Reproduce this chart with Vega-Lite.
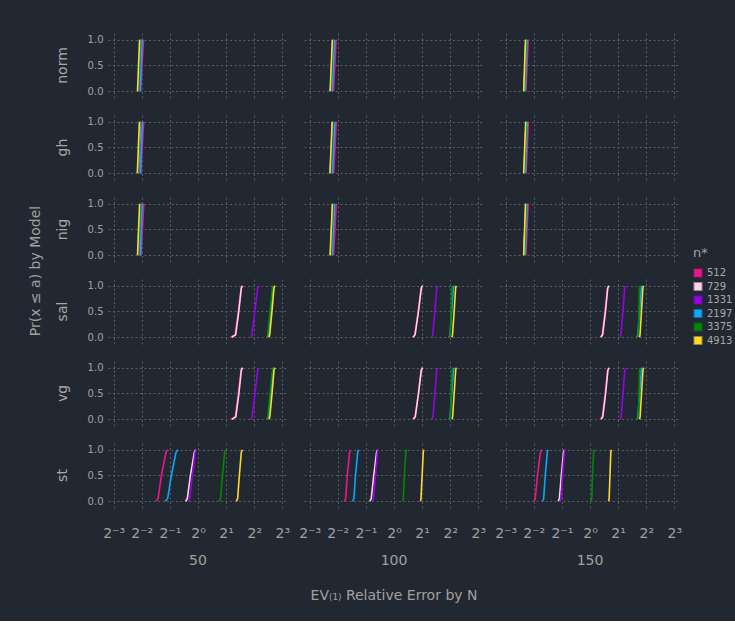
{
"$schema": "https://vega.github.io/schema/vega-lite/v6.json",
"background": "#222831",
"padding": {"left": 28, "top": 33, "right": 5, "bottom": 18},
"data": {"values": [
{"model":"norm","N":50,"n":512,"x":0.243,"p":0},{"model":"norm","N":50,"n":512,"x":0.261,"p":1},
{"model":"norm","N":50,"n":729,"x":0.233,"p":0},{"model":"norm","N":50,"n":729,"x":0.245,"p":1},
{"model":"norm","N":50,"n":1331,"x":0.237,"p":0},{"model":"norm","N":50,"n":1331,"x":0.250,"p":1},
{"model":"norm","N":50,"n":2197,"x":0.240,"p":0},{"model":"norm","N":50,"n":2197,"x":0.253,"p":1},
{"model":"norm","N":50,"n":3375,"x":0.230,"p":0},{"model":"norm","N":50,"n":3375,"x":0.241,"p":1},
{"model":"norm","N":50,"n":4913,"x":0.225,"p":0},{"model":"norm","N":50,"n":4913,"x":0.237,"p":1},
{"model":"gh","N":50,"n":512,"x":0.244,"p":0},{"model":"gh","N":50,"n":512,"x":0.262,"p":1},
{"model":"gh","N":50,"n":729,"x":0.232,"p":0},{"model":"gh","N":50,"n":729,"x":0.244,"p":1},
{"model":"gh","N":50,"n":1331,"x":0.238,"p":0},{"model":"gh","N":50,"n":1331,"x":0.251,"p":1},
{"model":"gh","N":50,"n":2197,"x":0.241,"p":0},{"model":"gh","N":50,"n":2197,"x":0.254,"p":1},
{"model":"gh","N":50,"n":3375,"x":0.229,"p":0},{"model":"gh","N":50,"n":3375,"x":0.240,"p":1},
{"model":"gh","N":50,"n":4913,"x":0.224,"p":0},{"model":"gh","N":50,"n":4913,"x":0.236,"p":1},
{"model":"nig","N":50,"n":512,"x":0.245,"p":0},{"model":"nig","N":50,"n":512,"x":0.263,"p":1},
{"model":"nig","N":50,"n":729,"x":0.233,"p":0},{"model":"nig","N":50,"n":729,"x":0.246,"p":1},
{"model":"nig","N":50,"n":1331,"x":0.238,"p":0},{"model":"nig","N":50,"n":1331,"x":0.250,"p":1},
{"model":"nig","N":50,"n":2197,"x":0.241,"p":0},{"model":"nig","N":50,"n":2197,"x":0.253,"p":1},
{"model":"nig","N":50,"n":3375,"x":0.230,"p":0},{"model":"nig","N":50,"n":3375,"x":0.242,"p":1},
{"model":"nig","N":50,"n":4913,"x":0.225,"p":0},{"model":"nig","N":50,"n":4913,"x":0.237,"p":1},
{"model":"norm","N":100,"n":512,"x":0.225,"p":0},{"model":"norm","N":100,"n":512,"x":0.240,"p":1},
{"model":"norm","N":100,"n":729,"x":0.209,"p":0},{"model":"norm","N":100,"n":729,"x":0.221,"p":1},
{"model":"norm","N":100,"n":1331,"x":0.212,"p":0},{"model":"norm","N":100,"n":1331,"x":0.224,"p":1},
{"model":"norm","N":100,"n":2197,"x":0.218,"p":0},{"model":"norm","N":100,"n":2197,"x":0.232,"p":1},
{"model":"norm","N":100,"n":3375,"x":0.210,"p":0},{"model":"norm","N":100,"n":3375,"x":0.222,"p":1},
{"model":"norm","N":100,"n":4913,"x":0.207,"p":0},{"model":"norm","N":100,"n":4913,"x":0.219,"p":1},
{"model":"gh","N":100,"n":512,"x":0.226,"p":0},{"model":"gh","N":100,"n":512,"x":0.241,"p":1},
{"model":"gh","N":100,"n":729,"x":0.208,"p":0},{"model":"gh","N":100,"n":729,"x":0.220,"p":1},
{"model":"gh","N":100,"n":1331,"x":0.212,"p":0},{"model":"gh","N":100,"n":1331,"x":0.225,"p":1},
{"model":"gh","N":100,"n":2197,"x":0.219,"p":0},{"model":"gh","N":100,"n":2197,"x":0.233,"p":1},
{"model":"gh","N":100,"n":3375,"x":0.210,"p":0},{"model":"gh","N":100,"n":3375,"x":0.221,"p":1},
{"model":"gh","N":100,"n":4913,"x":0.206,"p":0},{"model":"gh","N":100,"n":4913,"x":0.218,"p":1},
{"model":"nig","N":100,"n":512,"x":0.225,"p":0},{"model":"nig","N":100,"n":512,"x":0.241,"p":1},
{"model":"nig","N":100,"n":729,"x":0.209,"p":0},{"model":"nig","N":100,"n":729,"x":0.221,"p":1},
{"model":"nig","N":100,"n":1331,"x":0.213,"p":0},{"model":"nig","N":100,"n":1331,"x":0.225,"p":1},
{"model":"nig","N":100,"n":2197,"x":0.218,"p":0},{"model":"nig","N":100,"n":2197,"x":0.232,"p":1},
{"model":"nig","N":100,"n":3375,"x":0.211,"p":0},{"model":"nig","N":100,"n":3375,"x":0.222,"p":1},
{"model":"nig","N":100,"n":4913,"x":0.207,"p":0},{"model":"nig","N":100,"n":4913,"x":0.219,"p":1},
{"model":"norm","N":150,"n":512,"x":0.206,"p":0},{"model":"norm","N":150,"n":512,"x":0.218,"p":1},
{"model":"norm","N":150,"n":729,"x":0.197,"p":0},{"model":"norm","N":150,"n":729,"x":0.206,"p":1},
{"model":"norm","N":150,"n":1331,"x":0.199,"p":0},{"model":"norm","N":150,"n":1331,"x":0.209,"p":1},
{"model":"norm","N":150,"n":2197,"x":0.202,"p":0},{"model":"norm","N":150,"n":2197,"x":0.212,"p":1},
{"model":"norm","N":150,"n":3375,"x":0.198,"p":0},{"model":"norm","N":150,"n":3375,"x":0.207,"p":1},
{"model":"norm","N":150,"n":4913,"x":0.195,"p":0},{"model":"norm","N":150,"n":4913,"x":0.204,"p":1},
{"model":"gh","N":150,"n":512,"x":0.207,"p":0},{"model":"gh","N":150,"n":512,"x":0.219,"p":1},
{"model":"gh","N":150,"n":729,"x":0.197,"p":0},{"model":"gh","N":150,"n":729,"x":0.207,"p":1},
{"model":"gh","N":150,"n":1331,"x":0.200,"p":0},{"model":"gh","N":150,"n":1331,"x":0.209,"p":1},
{"model":"gh","N":150,"n":2197,"x":0.203,"p":0},{"model":"gh","N":150,"n":2197,"x":0.213,"p":1},
{"model":"gh","N":150,"n":3375,"x":0.198,"p":0},{"model":"gh","N":150,"n":3375,"x":0.208,"p":1},
{"model":"gh","N":150,"n":4913,"x":0.195,"p":0},{"model":"gh","N":150,"n":4913,"x":0.205,"p":1},
{"model":"nig","N":150,"n":512,"x":0.206,"p":0},{"model":"nig","N":150,"n":512,"x":0.218,"p":1},
{"model":"nig","N":150,"n":729,"x":0.196,"p":0},{"model":"nig","N":150,"n":729,"x":0.206,"p":1},
{"model":"nig","N":150,"n":1331,"x":0.199,"p":0},{"model":"nig","N":150,"n":1331,"x":0.209,"p":1},
{"model":"nig","N":150,"n":2197,"x":0.202,"p":0},{"model":"nig","N":150,"n":2197,"x":0.212,"p":1},
{"model":"nig","N":150,"n":3375,"x":0.198,"p":0},{"model":"nig","N":150,"n":3375,"x":0.207,"p":1},
{"model":"nig","N":150,"n":4913,"x":0.195,"p":0},{"model":"nig","N":150,"n":4913,"x":0.204,"p":1},
{"model":"sal","N":50,"n":512,"x":2.235,"p":0},{"model":"sal","N":50,"n":512,"x":2.497,"p":0.05},{"model":"sal","N":50,"n":512,"x":2.694,"p":0.5},{"model":"sal","N":50,"n":512,"x":2.888,"p":0.95},{"model":"sal","N":50,"n":512,"x":2.969,"p":1},
{"model":"sal","N":50,"n":729,"x":2.297,"p":0},{"model":"sal","N":50,"n":729,"x":2.532,"p":0.05},{"model":"sal","N":50,"n":729,"x":2.732,"p":0.5},{"model":"sal","N":50,"n":729,"x":2.908,"p":0.95},{"model":"sal","N":50,"n":729,"x":2.990,"p":1},
{"model":"sal","N":50,"n":1331,"x":3.655,"p":0},{"model":"sal","N":50,"n":1331,"x":3.784,"p":0.05},{"model":"sal","N":50,"n":1331,"x":4.056,"p":0.5},{"model":"sal","N":50,"n":1331,"x":4.347,"p":0.95},{"model":"sal","N":50,"n":1331,"x":4.500,"p":1},
{"model":"sal","N":50,"n":2197,"x":5.541,"p":0},{"model":"sal","N":50,"n":2197,"x":5.657,"p":0.05},{"model":"sal","N":50,"n":2197,"x":5.979,"p":0.5},{"model":"sal","N":50,"n":2197,"x":6.320,"p":0.95},{"model":"sal","N":50,"n":2197,"x":6.453,"p":1},
{"model":"sal","N":50,"n":3375,"x":5.426,"p":0},{"model":"sal","N":50,"n":3375,"x":5.579,"p":0.05},{"model":"sal","N":50,"n":3375,"x":5.897,"p":0.5},{"model":"sal","N":50,"n":3375,"x":6.277,"p":0.95},{"model":"sal","N":50,"n":3375,"x":6.409,"p":1},
{"model":"sal","N":50,"n":4913,"x":5.736,"p":0},{"model":"sal","N":50,"n":4913,"x":5.856,"p":0.05},{"model":"sal","N":50,"n":4913,"x":6.190,"p":0.5},{"model":"sal","N":50,"n":4913,"x":6.498,"p":0.95},{"model":"sal","N":50,"n":4913,"x":6.634,"p":1},
{"model":"vg","N":50,"n":512,"x":2.25,"p":0},{"model":"vg","N":50,"n":512,"x":2.51,"p":0.05},{"model":"vg","N":50,"n":512,"x":2.70,"p":0.5},{"model":"vg","N":50,"n":512,"x":2.89,"p":0.95},{"model":"vg","N":50,"n":512,"x":2.97,"p":1},
{"model":"vg","N":50,"n":729,"x":2.31,"p":0},{"model":"vg","N":50,"n":729,"x":2.54,"p":0.05},{"model":"vg","N":50,"n":729,"x":2.74,"p":0.5},{"model":"vg","N":50,"n":729,"x":2.91,"p":0.95},{"model":"vg","N":50,"n":729,"x":3.00,"p":1},
{"model":"vg","N":50,"n":1331,"x":3.67,"p":0},{"model":"vg","N":50,"n":1331,"x":3.80,"p":0.05},{"model":"vg","N":50,"n":1331,"x":4.07,"p":0.5},{"model":"vg","N":50,"n":1331,"x":4.36,"p":0.95},{"model":"vg","N":50,"n":1331,"x":4.51,"p":1},
{"model":"vg","N":50,"n":2197,"x":5.55,"p":0},{"model":"vg","N":50,"n":2197,"x":5.67,"p":0.05},{"model":"vg","N":50,"n":2197,"x":5.99,"p":0.5},{"model":"vg","N":50,"n":2197,"x":6.33,"p":0.95},{"model":"vg","N":50,"n":2197,"x":6.46,"p":1},
{"model":"vg","N":50,"n":3375,"x":5.44,"p":0},{"model":"vg","N":50,"n":3375,"x":5.59,"p":0.05},{"model":"vg","N":50,"n":3375,"x":5.91,"p":0.5},{"model":"vg","N":50,"n":3375,"x":6.28,"p":0.95},{"model":"vg","N":50,"n":3375,"x":6.41,"p":1},
{"model":"vg","N":50,"n":4913,"x":5.75,"p":0},{"model":"vg","N":50,"n":4913,"x":5.87,"p":0.05},{"model":"vg","N":50,"n":4913,"x":6.20,"p":0.5},{"model":"vg","N":50,"n":4913,"x":6.51,"p":0.95},{"model":"vg","N":50,"n":4913,"x":6.64,"p":1},
{"model":"sal","N":100,"n":512,"x":1.580,"p":0},{"model":"sal","N":100,"n":512,"x":1.670,"p":0.05},{"model":"sal","N":100,"n":512,"x":1.815,"p":0.5},{"model":"sal","N":100,"n":512,"x":1.945,"p":0.95},{"model":"sal","N":100,"n":512,"x":2.000,"p":1},
{"model":"sal","N":100,"n":729,"x":1.602,"p":0},{"model":"sal","N":100,"n":729,"x":1.682,"p":0.05},{"model":"sal","N":100,"n":729,"x":1.828,"p":0.5},{"model":"sal","N":100,"n":729,"x":1.959,"p":0.95},{"model":"sal","N":100,"n":729,"x":2.014,"p":1},
{"model":"sal","N":100,"n":1331,"x":2.532,"p":0},{"model":"sal","N":100,"n":1331,"x":2.603,"p":0.05},{"model":"sal","N":100,"n":1331,"x":2.732,"p":0.5},{"model":"sal","N":100,"n":1331,"x":2.868,"p":0.95},{"model":"sal","N":100,"n":1331,"x":2.928,"p":1},
{"model":"sal","N":100,"n":2197,"x":3.891,"p":0},{"model":"sal","N":100,"n":2197,"x":3.972,"p":0.05},{"model":"sal","N":100,"n":2197,"x":4.141,"p":0.5},{"model":"sal","N":100,"n":2197,"x":4.317,"p":0.95},{"model":"sal","N":100,"n":2197,"x":4.377,"p":1},
{"model":"sal","N":100,"n":3375,"x":3.945,"p":0},{"model":"sal","N":100,"n":3375,"x":4.000,"p":0.05},{"model":"sal","N":100,"n":3375,"x":4.084,"p":0.5},{"model":"sal","N":100,"n":3375,"x":4.170,"p":0.95},{"model":"sal","N":100,"n":3375,"x":4.228,"p":1},
{"model":"sal","N":100,"n":4913,"x":4.170,"p":0},{"model":"sal","N":100,"n":4913,"x":4.228,"p":0.05},{"model":"sal","N":100,"n":4913,"x":4.408,"p":0.5},{"model":"sal","N":100,"n":4913,"x":4.563,"p":0.95},{"model":"sal","N":100,"n":4913,"x":4.627,"p":1},
{"model":"vg","N":100,"n":512,"x":1.59,"p":0},{"model":"vg","N":100,"n":512,"x":1.68,"p":0.05},{"model":"vg","N":100,"n":512,"x":1.82,"p":0.5},{"model":"vg","N":100,"n":512,"x":1.95,"p":0.95},{"model":"vg","N":100,"n":512,"x":2.01,"p":1},
{"model":"vg","N":100,"n":729,"x":1.61,"p":0},{"model":"vg","N":100,"n":729,"x":1.69,"p":0.05},{"model":"vg","N":100,"n":729,"x":1.83,"p":0.5},{"model":"vg","N":100,"n":729,"x":1.96,"p":0.95},{"model":"vg","N":100,"n":729,"x":2.02,"p":1},
{"model":"vg","N":100,"n":1331,"x":2.54,"p":0},{"model":"vg","N":100,"n":1331,"x":2.61,"p":0.05},{"model":"vg","N":100,"n":1331,"x":2.74,"p":0.5},{"model":"vg","N":100,"n":1331,"x":2.87,"p":0.95},{"model":"vg","N":100,"n":1331,"x":2.93,"p":1},
{"model":"vg","N":100,"n":2197,"x":3.90,"p":0},{"model":"vg","N":100,"n":2197,"x":3.98,"p":0.05},{"model":"vg","N":100,"n":2197,"x":4.15,"p":0.5},{"model":"vg","N":100,"n":2197,"x":4.32,"p":0.95},{"model":"vg","N":100,"n":2197,"x":4.38,"p":1},
{"model":"vg","N":100,"n":3375,"x":3.95,"p":0},{"model":"vg","N":100,"n":3375,"x":4.01,"p":0.05},{"model":"vg","N":100,"n":3375,"x":4.09,"p":0.5},{"model":"vg","N":100,"n":3375,"x":4.18,"p":0.95},{"model":"vg","N":100,"n":3375,"x":4.23,"p":1},
{"model":"vg","N":100,"n":4913,"x":4.18,"p":0},{"model":"vg","N":100,"n":4913,"x":4.24,"p":0.05},{"model":"vg","N":100,"n":4913,"x":4.41,"p":0.5},{"model":"vg","N":100,"n":4913,"x":4.57,"p":0.95},{"model":"vg","N":100,"n":4913,"x":4.63,"p":1},
{"model":"sal","N":150,"n":512,"x":1.292,"p":0},{"model":"sal","N":150,"n":512,"x":1.347,"p":0.05},{"model":"sal","N":150,"n":512,"x":1.444,"p":0.5},{"model":"sal","N":150,"n":512,"x":1.537,"p":0.95},{"model":"sal","N":150,"n":512,"x":1.580,"p":1},
{"model":"sal","N":150,"n":729,"x":1.310,"p":0},{"model":"sal","N":150,"n":729,"x":1.366,"p":0.05},{"model":"sal","N":150,"n":729,"x":1.464,"p":0.5},{"model":"sal","N":150,"n":729,"x":1.548,"p":0.95},{"model":"sal","N":150,"n":729,"x":1.591,"p":1},
{"model":"sal","N":150,"n":1331,"x":2.099,"p":0},{"model":"sal","N":150,"n":1331,"x":2.144,"p":0.05},{"model":"sal","N":150,"n":1331,"x":2.250,"p":0.5},{"model":"sal","N":150,"n":1331,"x":2.346,"p":0.95},{"model":"sal","N":150,"n":1331,"x":2.412,"p":1},
{"model":"sal","N":150,"n":2197,"x":3.182,"p":0},{"model":"sal","N":150,"n":2197,"x":3.249,"p":0.05},{"model":"sal","N":150,"n":2197,"x":3.387,"p":0.5},{"model":"sal","N":150,"n":2197,"x":3.531,"p":0.95},{"model":"sal","N":150,"n":2197,"x":3.580,"p":1},
{"model":"sal","N":150,"n":3375,"x":3.249,"p":0},{"model":"sal","N":150,"n":3375,"x":3.294,"p":0.05},{"model":"sal","N":150,"n":3375,"x":3.340,"p":0.5},{"model":"sal","N":150,"n":3375,"x":3.387,"p":0.95},{"model":"sal","N":150,"n":3375,"x":3.434,"p":1},
{"model":"sal","N":150,"n":4913,"x":3.387,"p":0},{"model":"sal","N":150,"n":4913,"x":3.434,"p":0.05},{"model":"sal","N":150,"n":4913,"x":3.555,"p":0.5},{"model":"sal","N":150,"n":4913,"x":3.681,"p":0.95},{"model":"sal","N":150,"n":4913,"x":3.732,"p":1},
{"model":"vg","N":150,"n":512,"x":1.300,"p":0},{"model":"vg","N":150,"n":512,"x":1.355,"p":0.05},{"model":"vg","N":150,"n":512,"x":1.450,"p":0.5},{"model":"vg","N":150,"n":512,"x":1.540,"p":0.95},{"model":"vg","N":150,"n":512,"x":1.585,"p":1},
{"model":"vg","N":150,"n":729,"x":1.315,"p":0},{"model":"vg","N":150,"n":729,"x":1.370,"p":0.05},{"model":"vg","N":150,"n":729,"x":1.470,"p":0.5},{"model":"vg","N":150,"n":729,"x":1.555,"p":0.95},{"model":"vg","N":150,"n":729,"x":1.600,"p":1},
{"model":"vg","N":150,"n":1331,"x":2.11,"p":0},{"model":"vg","N":150,"n":1331,"x":2.15,"p":0.05},{"model":"vg","N":150,"n":1331,"x":2.26,"p":0.5},{"model":"vg","N":150,"n":1331,"x":2.35,"p":0.95},{"model":"vg","N":150,"n":1331,"x":2.42,"p":1},
{"model":"vg","N":150,"n":2197,"x":3.19,"p":0},{"model":"vg","N":150,"n":2197,"x":3.26,"p":0.05},{"model":"vg","N":150,"n":2197,"x":3.39,"p":0.5},{"model":"vg","N":150,"n":2197,"x":3.54,"p":0.95},{"model":"vg","N":150,"n":2197,"x":3.59,"p":1},
{"model":"vg","N":150,"n":3375,"x":3.255,"p":0},{"model":"vg","N":150,"n":3375,"x":3.30,"p":0.05},{"model":"vg","N":150,"n":3375,"x":3.345,"p":0.5},{"model":"vg","N":150,"n":3375,"x":3.39,"p":0.95},{"model":"vg","N":150,"n":3375,"x":3.44,"p":1},
{"model":"vg","N":150,"n":4913,"x":3.39,"p":0},{"model":"vg","N":150,"n":4913,"x":3.44,"p":0.05},{"model":"vg","N":150,"n":4913,"x":3.56,"p":0.5},{"model":"vg","N":150,"n":4913,"x":3.69,"p":0.95},{"model":"vg","N":150,"n":4913,"x":3.74,"p":1},
{"model":"st","N":50,"n":512,"x":0.351,"p":0},{"model":"st","N":50,"n":512,"x":0.374,"p":0.05},{"model":"st","N":50,"n":512,"x":0.406,"p":0.5},{"model":"st","N":50,"n":512,"x":0.454,"p":0.95},{"model":"st","N":50,"n":512,"x":0.473,"p":1},
{"model":"st","N":50,"n":729,"x":0.737,"p":0},{"model":"st","N":50,"n":729,"x":0.768,"p":0.05},{"model":"st","N":50,"n":729,"x":0.829,"p":0.5},{"model":"st","N":50,"n":729,"x":0.914,"p":0.95},{"model":"st","N":50,"n":729,"x":0.946,"p":1},
{"model":"st","N":50,"n":1331,"x":0.785,"p":0},{"model":"st","N":50,"n":1331,"x":0.812,"p":0.05},{"model":"st","N":50,"n":1331,"x":0.871,"p":0.5},{"model":"st","N":50,"n":1331,"x":0.933,"p":0.95},{"model":"st","N":50,"n":1331,"x":0.959,"p":1},
{"model":"st","N":50,"n":2197,"x":0.444,"p":0},{"model":"st","N":50,"n":2197,"x":0.473,"p":0.05},{"model":"st","N":50,"n":2197,"x":0.518,"p":0.5},{"model":"st","N":50,"n":2197,"x":0.582,"p":0.95},{"model":"st","N":50,"n":2197,"x":0.611,"p":1},
{"model":"st","N":50,"n":3375,"x":1.682,"p":0},{"model":"st","N":50,"n":3375,"x":1.741,"p":0.05},{"model":"st","N":50,"n":3375,"x":1.828,"p":0.5},{"model":"st","N":50,"n":3375,"x":1.932,"p":0.95},{"model":"st","N":50,"n":3375,"x":1.973,"p":1},
{"model":"st","N":50,"n":4913,"x":2.567,"p":0},{"model":"st","N":50,"n":4913,"x":2.657,"p":0.05},{"model":"st","N":50,"n":4913,"x":2.770,"p":0.5},{"model":"st","N":50,"n":4913,"x":2.908,"p":0.95},{"model":"st","N":50,"n":4913,"x":2.990,"p":1},
{"model":"st","N":100,"n":512,"x":0.293,"p":0},{"model":"st","N":100,"n":512,"x":0.304,"p":0.05},{"model":"st","N":100,"n":512,"x":0.316,"p":0.5},{"model":"st","N":100,"n":512,"x":0.335,"p":0.95},{"model":"st","N":100,"n":512,"x":0.342,"p":1},
{"model":"st","N":100,"n":729,"x":0.551,"p":0},{"model":"st","N":100,"n":729,"x":0.570,"p":0.05},{"model":"st","N":100,"n":729,"x":0.607,"p":0.5},{"model":"st","N":100,"n":729,"x":0.651,"p":0.95},{"model":"st","N":100,"n":729,"x":0.669,"p":1},
{"model":"st","N":100,"n":1331,"x":0.586,"p":0},{"model":"st","N":100,"n":1331,"x":0.603,"p":0.05},{"model":"st","N":100,"n":1331,"x":0.633,"p":0.5},{"model":"st","N":100,"n":1331,"x":0.664,"p":0.95},{"model":"st","N":100,"n":1331,"x":0.678,"p":1},
{"model":"st","N":100,"n":2197,"x":0.361,"p":0},{"model":"st","N":100,"n":2197,"x":0.372,"p":0.05},{"model":"st","N":100,"n":2197,"x":0.387,"p":0.5},{"model":"st","N":100,"n":2197,"x":0.409,"p":0.95},{"model":"st","N":100,"n":2197,"x":0.418,"p":1},
{"model":"st","N":100,"n":3375,"x":1.231,"p":0},{"model":"st","N":100,"n":3375,"x":1.257,"p":0.05},{"model":"st","N":100,"n":3375,"x":1.292,"p":0.5},{"model":"st","N":100,"n":3375,"x":1.338,"p":0.95},{"model":"st","N":100,"n":3375,"x":1.357,"p":1},
{"model":"st","N":100,"n":4913,"x":1.919,"p":0},{"model":"st","N":100,"n":4913,"x":1.945,"p":0.05},{"model":"st","N":100,"n":4913,"x":2.000,"p":0.5},{"model":"st","N":100,"n":4913,"x":2.056,"p":0.95},{"model":"st","N":100,"n":4913,"x":2.085,"p":1},
{"model":"st","N":150,"n":512,"x":0.252,"p":0},{"model":"st","N":150,"n":512,"x":0.259,"p":0.05},{"model":"st","N":150,"n":512,"x":0.274,"p":0.5},{"model":"st","N":150,"n":512,"x":0.295,"p":0.95},{"model":"st","N":150,"n":512,"x":0.304,"p":1},
{"model":"st","N":150,"n":729,"x":0.457,"p":0},{"model":"st","N":150,"n":729,"x":0.470,"p":0.05},{"model":"st","N":150,"n":729,"x":0.493,"p":0.5},{"model":"st","N":150,"n":729,"x":0.521,"p":0.95},{"model":"st","N":150,"n":729,"x":0.532,"p":1},
{"model":"st","N":150,"n":1331,"x":0.476,"p":0},{"model":"st","N":150,"n":1331,"x":0.490,"p":0.05},{"model":"st","N":150,"n":1331,"x":0.507,"p":0.5},{"model":"st","N":150,"n":1331,"x":0.532,"p":0.95},{"model":"st","N":150,"n":1331,"x":0.540,"p":1},
{"model":"st","N":150,"n":2197,"x":0.312,"p":0},{"model":"st","N":150,"n":2197,"x":0.319,"p":0.05},{"model":"st","N":150,"n":2197,"x":0.332,"p":0.5},{"model":"st","N":150,"n":2197,"x":0.349,"p":0.95},{"model":"st","N":150,"n":2197,"x":0.354,"p":1},
{"model":"st","N":150,"n":3375,"x":1.021,"p":0},{"model":"st","N":150,"n":3375,"x":1.043,"p":0.05},{"model":"st","N":150,"n":3375,"x":1.064,"p":0.5},{"model":"st","N":150,"n":3375,"x":1.094,"p":0.95},{"model":"st","N":150,"n":3375,"x":1.110,"p":1},
{"model":"st","N":150,"n":4913,"x":1.580,"p":0},{"model":"st","N":150,"n":4913,"x":1.602,"p":0.05},{"model":"st","N":150,"n":4913,"x":1.636,"p":0.5},{"model":"st","N":150,"n":4913,"x":1.670,"p":0.95},{"model":"st","N":150,"n":4913,"x":1.694,"p":1}
]},
"facet": {
  "row": {"field": "model", "type": "nominal", "sort": ["norm","gh","nig","sal","vg","st"],
    "header": {"title": "Pr(x ≤ a) by Model", "titleOrient": "left", "titleAngle": -90, "labelOrient": "left", "labelAngle": -90,
      "labelFont": "DejaVu Sans", "labelFontSize": 14, "labelColor": "#a8a8a8", "labelPadding": 10,
      "titleFont": "DejaVu Sans", "titleFontSize": 14, "titleFontWeight": "normal", "titleColor": "#a0a0a0", "titlePadding": -11}},
  "column": {"field": "N", "type": "ordinal",
    "header": {"title": "EV₍₁₎ Relative Error by N", "titleOrient": "bottom", "labelOrient": "bottom",
      "labelFont": "DejaVu Sans", "labelFontSize": 14, "labelColor": "#a0a0a0", "labelPadding": 14,
      "titleFont": "DejaVu Sans", "titleFontSize": 14, "titleFontWeight": "normal", "titleColor": "#a0a0a0", "titlePadding": 11}}
},
"spacing": {"row": 17, "column": 16},
"spec": {
  "width": 180, "height": 65,
  "mark": {"type": "line", "strokeWidth": 1.6, "clip": true},
  "encoding": {
    "x": {"field": "x", "type": "quantitative",
      "scale": {"type": "log", "base": 2, "domain": [0.1088, 9.19], "nice": false},
      "axis": {"title": null, "values": [0.125, 0.25, 0.5, 1, 2, 4, 8], "labelExpr": "['2⁻³','2⁻²','2⁻¹','2⁰','2¹','2²','2³'][round(log(datum.value)/log(2))+3]",
        "labelFontSize": 14, "labelPadding": 18, "labelFlush": false}},
    "y": {"field": "p", "type": "quantitative",
      "scale": {"domain": [-0.13, 1.13], "nice": false, "zero": false},
      "axis": {"title": null, "values": [0, 0.5, 1], "format": ".1f", "labelFontSize": 10, "labelPadding": 5}},
    "color": {"field": "n", "type": "nominal",
      "scale": {"domain": [512, 729, 1331, 2197, 3375, 4913], "range": ["#f0148c", "#ffd0e8", "#9900ee", "#0ea5ff", "#008a00", "#ffd92a"]},
      "legend": {"title": "n*", "orient": "none", "legendX": 585, "legendY": 214, "symbolType": "square", "symbolSize": 49,
        "symbolStrokeWidth": 2, "rowPadding": -2.5, "labelFontSize": 10, "labelColor": "#a8a8a8", "titleFontSize": 13, "titleFontWeight": "normal", "titleColor": "#a0a0a0", "titlePadding": 8,
        "encode": {"symbols": {"update": {"fill": {"scale": "color", "field": "value"}, "fillOpacity": {"value": 1}, "stroke": {"value": "#b0a0b0"}, "strokeOpacity": {"value": 0.55}}}}}},
    "order": {"field": "p", "type": "quantitative"}
  }
},
"config": {
  "view": {"stroke": null},
  "font": "DejaVu Sans",
  "axis": {"grid": true, "gridColor": "#5c5c5c", "gridDash": [2, 2.5], "gridWidth": 1, "domain": false, "ticks": false, "labelColor": "#a0a0a0", "labelFont": "DejaVu Sans"}
}
}
